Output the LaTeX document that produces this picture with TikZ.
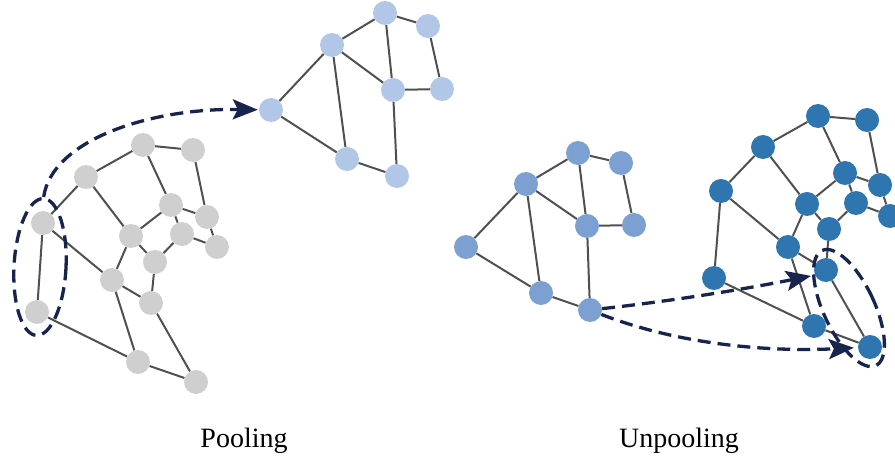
\documentclass[tikz,border=0pt]{standalone}
\usepackage{fontspec}
\setmainfont{Liberation Serif}
\usetikzlibrary{shapes.geometric, arrows.meta, backgrounds}

\definecolor{nodegray}{RGB}{207,207,207}
\definecolor{coarseblue}{RGB}{178,198,231}
\definecolor{midblue}{RGB}{124,160,209}
\definecolor{deepblue}{RGB}{47,117,176}
\definecolor{linkgray}{RGB}{80,80,80}
\definecolor{navy}{RGB}{24,36,78}

\tikzset{
    vertex/.style={circle, minimum size=24pt, inner sep=0pt},
    finenode/.style={vertex, fill=nodegray},
    coarsenode/.style={vertex, fill=coarseblue},
    sourcenode/.style={vertex, fill=midblue},
    restorednode/.style={vertex, fill=deepblue},
    link/.style={draw=linkgray, line width=2pt},
    dasharrow/.style={draw=navy, line width=3.3pt, dash pattern=on 13pt off 7pt, -{Stealth[length=25pt, width=20pt, inset=5pt]}},
    groupring/.style={ellipse, draw=navy, line width=3.3pt, dash pattern=on 13pt off 7pt, inner sep=0pt},
    caption/.style={font=\fontsize{28}{33}\selectfont, anchor=base, inner sep=0pt}
}

\begin{document}
\begin{tikzpicture}[x=1pt, y=-1pt]
    \useasboundingbox (0,0) rectangle (895,457);

    % --- GRAPHE FIN (gauche) ---
    \node (g1) [finenode] at (143,145) {};
    \node (g2) [finenode] at (193,150) {};
    \node (g3) [finenode] at (86,177) {};
    \node (g4) [finenode] at (43,223) {};
    \node (g5) [finenode] at (171,205) {};
    \node (g6) [finenode] at (207,217) {};
    \node (g7) [finenode] at (131,236) {};
    \node (g8) [finenode] at (182,234) {};
    \node (g9) [finenode] at (217,247) {};
    \node (g10) [finenode] at (155,262) {};
    \node (g11) [finenode] at (112,280) {};
    \node (g12) [finenode] at (151,303) {};
    \node (g13) [finenode] at (37,312) {};
    \node (g14) [finenode] at (138,362) {};
    \node (g15) [finenode] at (196,382) {};

    % --- GRAPHE GROSSIER (haut) ---
    \node (t1) [coarsenode] at (385,13) {};
    \node (t2) [coarsenode] at (428,26) {};
    \node (t3) [coarsenode] at (332,45) {};
    \node (t4) [coarsenode] at (393,90) {};
    \node (t5) [coarsenode] at (442,89) {};
    \node (t6) [coarsenode] at (271,110) {};
    \node (t7) [coarsenode] at (347,159) {};
    \node (t8) [coarsenode] at (397,176) {};

    % --- GRAPHE SOURCE (milieu) ---
    \node (m1) [sourcenode] at (578,153) {};
    \node (m2) [sourcenode] at (621,163) {};
    \node (m3) [sourcenode] at (526,184) {};
    \node (m4) [sourcenode] at (587,226) {};
    \node (m5) [sourcenode] at (634,225) {};
    \node (m6) [sourcenode] at (466,247) {};
    \node (m7) [sourcenode] at (541,293) {};
    \node (m8) [sourcenode] at (590,310) {};

    % --- GRAPHE RESTAURE (droite) ---
    \node (r1) [restorednode] at (818,116) {};
    \node (r2) [restorednode] at (867,120) {};
    \node (r3) [restorednode] at (763,147) {};
    \node (r4) [restorednode] at (721,191) {};
    \node (r5) [restorednode] at (845,173) {};
    \node (r6) [restorednode] at (880,185) {};
    \node (r7) [restorednode] at (807,204) {};
    \node (r8) [restorednode] at (856,203) {};
    \node (r9) [restorednode] at (890,216) {};
    \node (r10) [restorednode] at (829,229) {};
    \node (r11) [restorednode] at (788,247) {};
    \node (r12) [restorednode] at (826,270) {};
    \node (r13) [restorednode] at (714,278) {};
    \node (r14) [restorednode] at (814,326) {};
    \node (r15) [restorednode] at (870,347) {};

    % --- ARETES ---
    \begin{pgfonlayer}{background}
        \draw [link] (g1) -- (g2) (g1) -- (g3) (g1) -- (g5) (g2) -- (g6)
            (g3) -- (g4) (g3) -- (g7) (g5) -- (g6) (g5) -- (g7) (g5) -- (g8)
            (g6) -- (g9) (g8) -- (g9) (g7) -- (g10) (g8) -- (g10) (g7) -- (g11)
            (g4) -- (g11) (g4) -- (g13) (g10) -- (g12) (g11) -- (g12)
            (g11) -- (g14) (g12) -- (g15) (g13) -- (g14) (g14) -- (g15);
        \draw [link] (t1) -- (t2) (t1) -- (t3) (t1) -- (t4) (t2) -- (t5)
            (t3) -- (t6) (t3) -- (t4) (t3) -- (t7) (t4) -- (t5) (t4) -- (t8)
            (t6) -- (t7) (t7) -- (t8);
        \draw [link] (m1) -- (m2) (m1) -- (m3) (m1) -- (m4) (m2) -- (m5)
            (m3) -- (m6) (m3) -- (m4) (m3) -- (m7) (m4) -- (m5) (m4) -- (m8)
            (m6) -- (m7) (m7) -- (m8);
        \draw [link] (r1) -- (r2) (r1) -- (r3) (r1) -- (r5) (r2) -- (r6)
            (r3) -- (r4) (r3) -- (r7) (r5) -- (r6) (r5) -- (r7) (r5) -- (r8)
            (r6) -- (r9) (r8) -- (r9) (r7) -- (r10) (r8) -- (r10) (r7) -- (r11)
            (r4) -- (r11) (r4) -- (r13) (r10) -- (r12) (r11) -- (r12)
            (r11) -- (r14) (r12) -- (r15) (r13) -- (r14) (r14) -- (r15);
    \end{pgfonlayer}

    % --- GROUPES ---
    \node (poolgroup) [groupring, minimum width=52pt, minimum height=137pt, rotate=-3] at (40,267) {};
    \node (unpoolgroup) [groupring, minimum width=51pt, minimum height=127pt, rotate=25] at (849,308) {};

    % --- FLECHES ---
    \draw [dasharrow, shorten >=1pt] (poolgroup.north) .. controls (52,140) and (150,108) .. (t6);
    \draw [dasharrow, shorten >=4pt] (m8) .. controls (680,300) and (750,288) .. (r12.205);
    \draw [dasharrow, shorten >=4pt] (m8) .. controls (680,345) and (770,352) .. (r15);

    % --- LEGENDES ---
    \node (poollabel) [caption] at (244,447) {Pooling};
    \node (unpoollabel) [caption] at (679,447) {Unpooling};

\end{tikzpicture}
\end{document}
